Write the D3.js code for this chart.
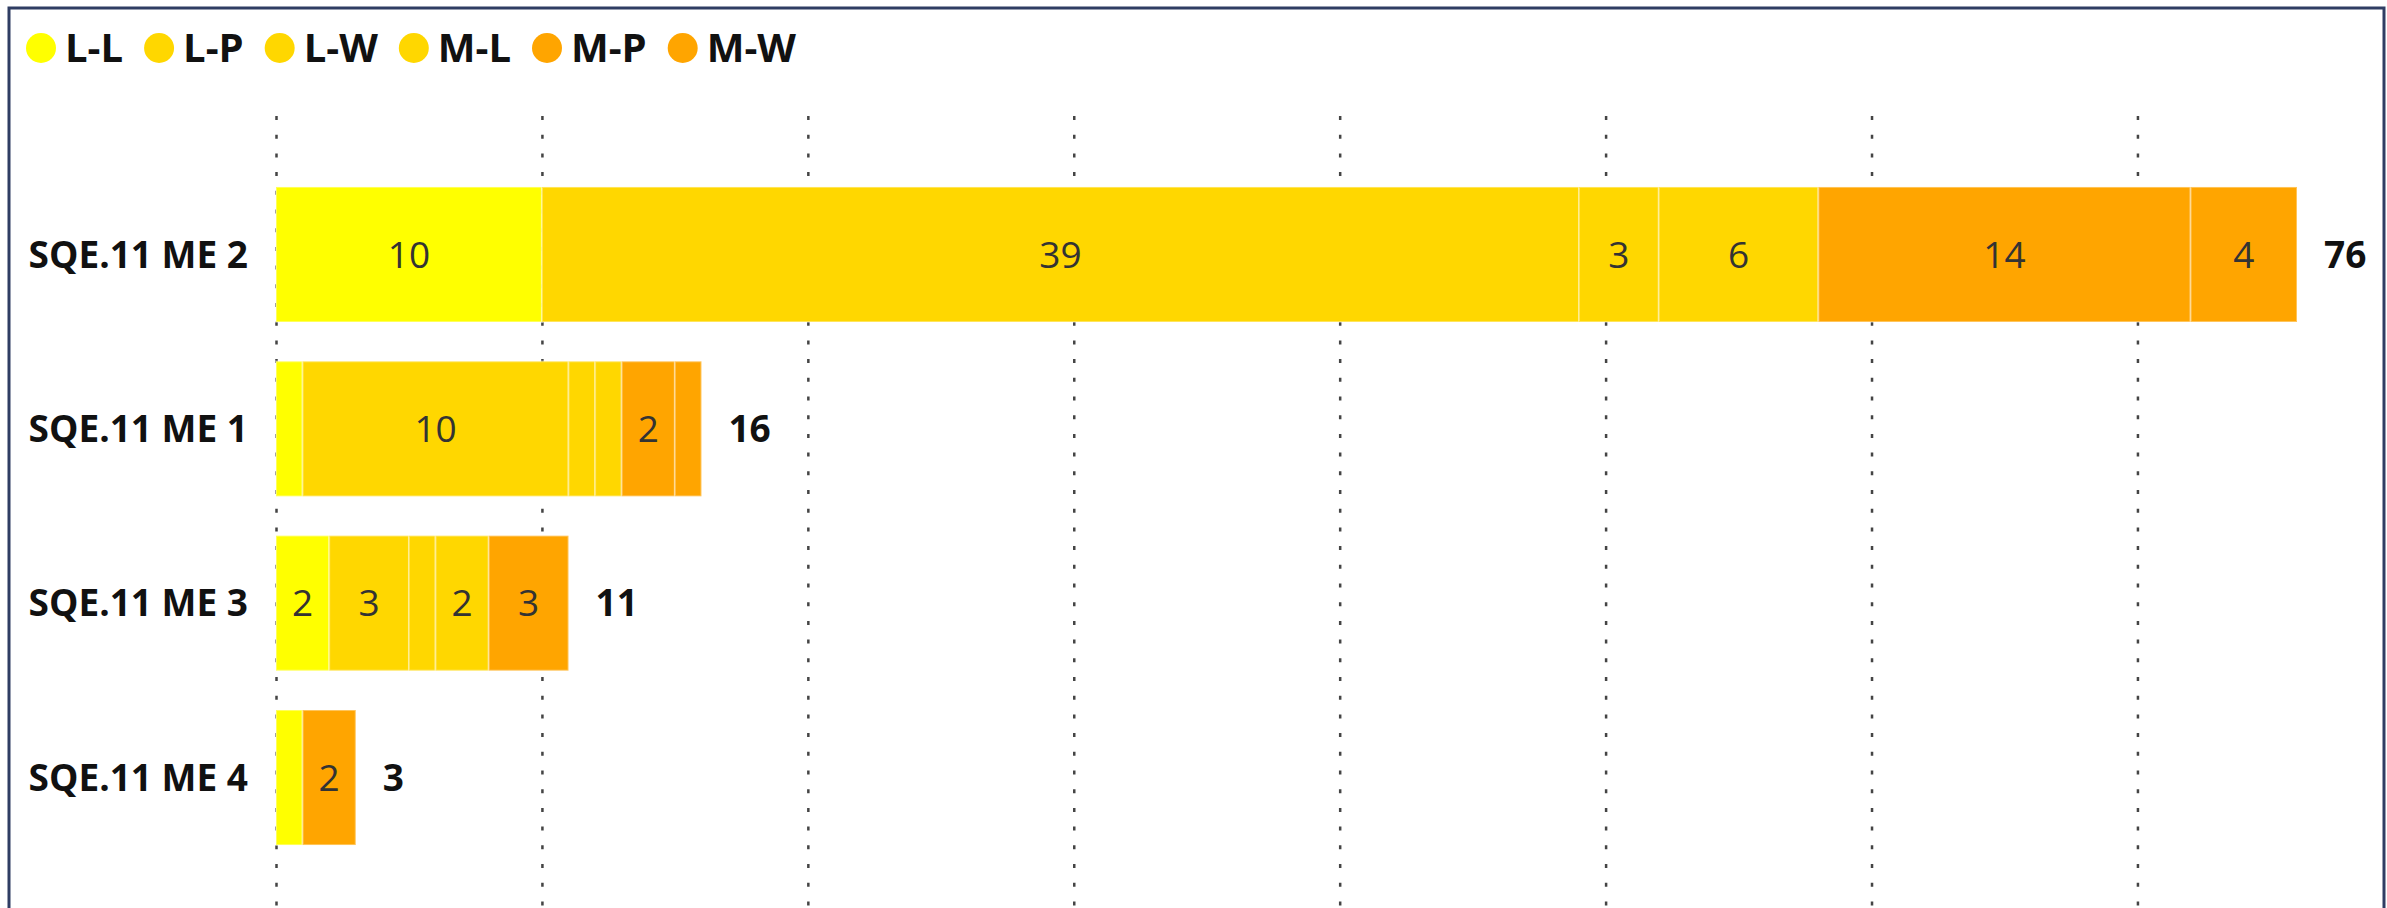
<!DOCTYPE html>
<html>
<head>
<meta charset="utf-8">
<script src="https://cdn.jsdelivr.net/npm/d3@7"></script>
<style>
  body { margin: 0; background: #fff; }
  text { font-family: "Open Sans", "Liberation Sans", Arial, sans-serif; }
</style>
</head>
<body>
<div id="chart"></div>
<script>
// categories in the order the visual sorts them (largest total first)
const categories = ["SQE.11 ME 2", "SQE.11 ME 1", "SQE.11 ME 3", "SQE.11 ME 4"]
const seriesNames = ["L-L", "L-P", "L-W", "M-L", "M-P", "M-W"]
const seriesColours = ["#FFFF00", "#FFD700", "#FFD700", "#FFD700", "#FFA500", "#FFA500"]

// one array per series, same order as categories
const valuesLL = [10, 1, 2, 1]
const valuesLP = [39, 10, 3, 0]
const valuesLW = [3, 1, 1, 0]
const valuesML = [6, 1, 2, 0]
const valuesMP = [14, 2, 3, 2]
const valuesMW = [4, 1, 0, 0]

const xTicks = [0, 10, 20, 30, 40, 50, 60, 70]

function stacked_bar(){

    let svgWidth = 2387
    let svgHeight = 908
    let plot = {left: 276, right: 2297, top: 116, bottom: 916}

    //build the table d3.stack needs
    let seriesValues = [valuesLL, valuesLP, valuesLW, valuesML, valuesMP, valuesMW]
    let rows = categories.map(function(c, i){
        let row = {category: c}
        seriesNames.forEach(function(s, j){ row[s] = seriesValues[j][i] })
        return row
    })
    let totals = rows.map(r => d3.sum(seriesNames, s => r[s]))

    let svg = d3.select("#chart")
        .append("svg")
            .attr("width", svgWidth)
            .attr("height", svgHeight)
            .style("display", "block")

    //frame round the visual
    svg.append("rect")
        .attr("x", 9).attr("y", 8)
        .attr("width", 2375).attr("height", 940)
        .attr("fill", "none")
        .attr("stroke", "#2f3d63")
        .attr("stroke-width", 3)

    let x = d3.scaleLinear()
        .domain([0, d3.max(totals)])
        .range([plot.left, plot.right])

    let y = d3.scaleBand()
        .domain(categories)
        .range([plot.top, plot.bottom])
        .paddingInner(0.2256)
        .paddingOuter(0.407)

    let colour = d3.scaleOrdinal()
        .domain(seriesNames)
        .range(seriesColours)

    //dotted vertical gridlines
    let grid = svg.append("g")
        .attr("transform", `translate(0,${plot.top})`)
        .call(d3.axisBottom(x)
            .tickValues(xTicks)
            .tickSize(plot.bottom - plot.top)
            .tickFormat(""))
    grid.select(".domain").remove()
    grid.selectAll("line")
        .attr("stroke", "#444")
        .attr("stroke-width", 2.5)
        .attr("stroke-dasharray", "4,14.7")

    let stack = d3.stack().keys(seriesNames)(rows)

    let layers = svg.append("g")
        .selectAll("g")
        .data(stack)
        .join("g")
        .attr("fill", d => colour(d.key))

    layers.selectAll("rect")
        .data(d => d.filter(p => p[1] > p[0]))
        .join("rect")
        .attr("x", d => x(d[0]))
        .attr("y", d => y(d.data.category))
        .attr("width", d => x(d[1]) - x(d[0]))
        .attr("height", y.bandwidth())
        .attr("stroke", "rgba(255,255,255,0.35)")
        .attr("stroke-width", 2)

    //value labels, only where the segment is wide enough
    layers.selectAll("text")
        .data(d => d.filter(p => x(p[1]) - x(p[0]) > 40))
        .join("text")
        .text(d => d[1] - d[0])
        .attr("x", d => (x(d[0]) + x(d[1])) / 2)
        .attr("y", d => y(d.data.category) + y.bandwidth() / 2)
        .attr("dy", "0.36em")
        .attr("text-anchor", "middle")
        .style("font-size", "37px")
        .style("fill", "#333")

    //totals at the end of each bar
    svg.append("g")
        .selectAll("text")
        .data(rows)
        .join("text")
        .text((d, i) => totals[i])
        .attr("x", (d, i) => x(totals[i]) + 27)
        .attr("y", d => y(d.category) + y.bandwidth() / 2)
        .attr("dy", "0.36em")
        .style("font-size", "37px")
        .style("font-weight", "bold")
        .style("fill", "#111")

    //category labels
    svg.append("g")
        .selectAll("text")
        .data(categories)
        .join("text")
        .text(d => d)
        .attr("x", plot.left - 28)
        .attr("y", d => y(d) + y.bandwidth() / 2)
        .attr("dy", "0.36em")
        .attr("text-anchor", "end")
        .style("font-size", "37px")
        .style("font-weight", "bold")
        .style("fill", "#111")

    //legend across the top
    let legend = svg.append("g")
    let cx = 41
    seriesNames.forEach(function(s){
        legend.append("circle")
            .attr("cx", cx).attr("cy", 48).attr("r", 15)
            .attr("fill", colour(s))
        let t = legend.append("text")
            .text(s)
            .attr("x", cx + 24)
            .attr("y", 48)
            .attr("dy", "0.36em")
            .style("font-size", "40px")
            .style("font-weight", "bold")
            .style("fill", "#111")
        cx = cx + 24 + t.node().getComputedTextLength() + 36
    })
}

stacked_bar()
</script>
</body>
</html>
